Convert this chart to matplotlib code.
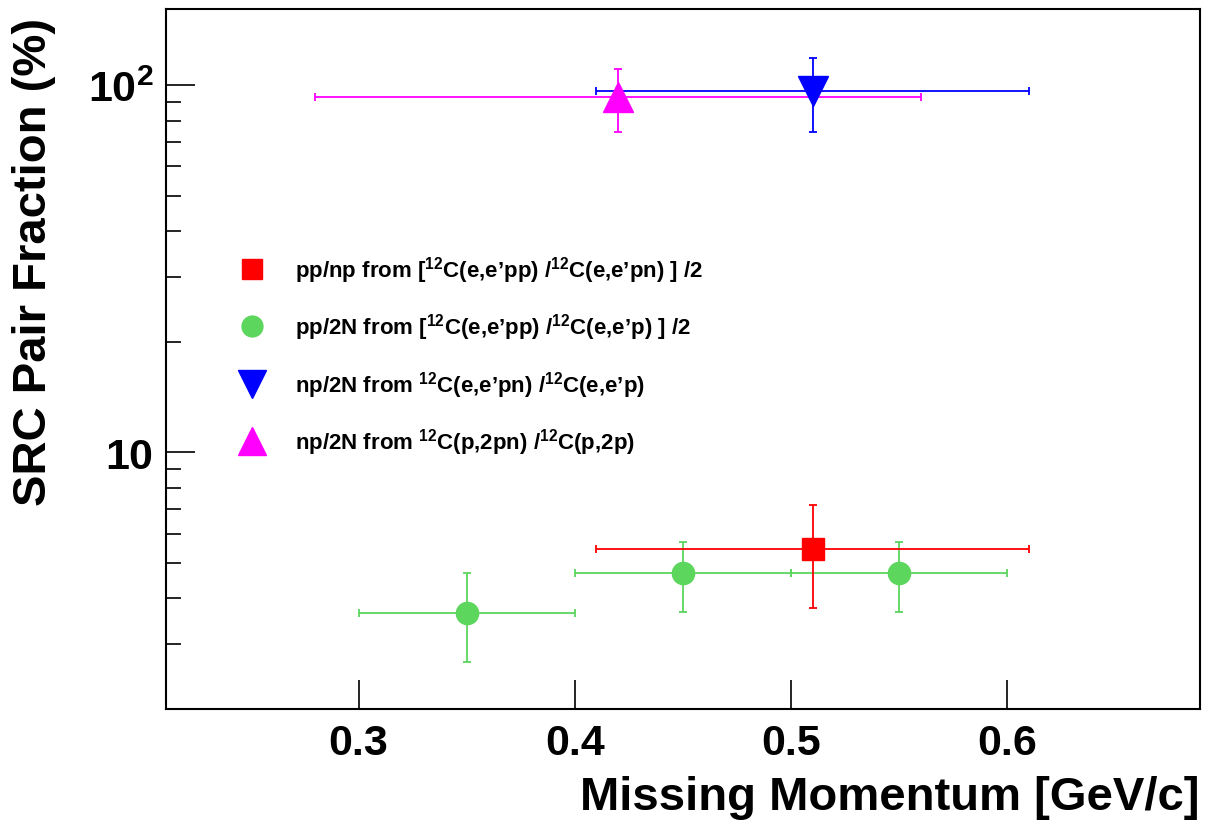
import matplotlib
matplotlib.use("Agg")
import matplotlib.pyplot as plt
from matplotlib.lines import Line2D
from matplotlib.ticker import FixedLocator, FixedFormatter, NullFormatter

plt.rcParams['font.family'] = ['Liberation Sans', 'DejaVu Sans']
plt.rcParams['font.weight'] = 'bold'
plt.rcParams['mathtext.fontset'] = 'custom'
plt.rcParams['mathtext.rm'] = 'Liberation Sans:bold'
plt.rcParams['mathtext.it'] = 'Liberation Sans:bold'
plt.rcParams['mathtext.bf'] = 'Liberation Sans:bold'
plt.rcParams['mathtext.default'] = 'rm'

# data
# pp/np from [12C(e,e'pp)/12C(e,e'pn)]/2
pp_np_x = [0.51]
pp_np_y = [5.47]
pp_np_xerr = [0.10]
pp_np_ylo = [5.47 - 3.77]
pp_np_yhi = [7.18 - 5.47]

# pp/2N from [12C(e,e'pp)/12C(e,e'p)]/2
pp_2n_x = [0.35, 0.45, 0.55]
pp_2n_y = [3.66, 4.68, 4.68]
pp_2n_xerr = [0.05, 0.05, 0.05]
pp_2n_ylo = [3.66 - 2.68, 4.68 - 3.67, 4.68 - 3.67]
pp_2n_yhi = [4.68 - 3.66, 5.68 - 4.68, 5.68 - 4.68]

# np/2N from 12C(e,e'pn)/12C(e,e'p)
np_e_x = [0.51]
np_e_y = [96.0]
np_e_xerr = [0.10]
np_e_ylo = [96.0 - 74.3]
np_e_yhi = [118.2 - 96.0]

# np/2N from 12C(p,2pn)/12C(p,2p)
np_p_x = [0.42]
np_p_y = [92.5]
np_p_xerr = [0.14]
np_p_ylo = [92.5 - 74.4]
np_p_yhi = [110.6 - 92.5]

labels = [
    r"pp/np from [$^{12}$C(e,e’pp) /$^{12}$C(e,e’pn) ] /2",
    r"pp/2N from [$^{12}$C(e,e’pp) /$^{12}$C(e,e’p) ] /2",
    r"np/2N from $^{12}$C(e,e’pn) /$^{12}$C(e,e’p)",
    r"np/2N from $^{12}$C(p,2pn) /$^{12}$C(p,2p)",
]

red = '#ff0000'
green = '#5cd65c'
blue = '#0000ff'
magenta = '#ff00ff'

fig = plt.figure(figsize=(12.12, 8.29), dpi=100)
ax = fig.add_axes([166/1212, 1 - 710/829, (1200-166)/1212, (710-10)/829])

eb = dict(ls='none', elinewidth=1.3, capsize=3, capthick=1.3)
ax.errorbar(pp_2n_x, pp_2n_y, xerr=pp_2n_xerr, yerr=[pp_2n_ylo, pp_2n_yhi],
            color=green, marker='o', markersize=16, mec=green, **eb)
ax.errorbar(pp_np_x, pp_np_y, xerr=pp_np_xerr, yerr=[pp_np_ylo, pp_np_yhi],
            color=red, marker='s', markersize=15.5, mec=red, **eb)
ax.errorbar(np_e_x, np_e_y, xerr=np_e_xerr, yerr=[np_e_ylo, np_e_yhi],
            color=blue, marker='v', markersize=21, mec=blue, **eb)
ax.errorbar(np_p_x, np_p_y, xerr=np_p_xerr, yerr=[np_p_ylo, np_p_yhi],
            color=magenta, marker='^', markersize=21, mec=magenta, **eb)

ax.set_yscale('log')
ax.set_xlim(0.211, 0.689)
ax.set_ylim(2.0, 161)

ax.xaxis.set_major_locator(FixedLocator([0.3, 0.4, 0.5, 0.6]))
ax.xaxis.set_major_formatter(FixedFormatter(['0.3', '0.4', '0.5', '0.6']))
ax.xaxis.set_minor_locator(FixedLocator([]))
ax.yaxis.set_major_locator(FixedLocator([10, 100]))
ax.yaxis.set_major_formatter(FixedFormatter(['10', r'10$^2$']))
ax.yaxis.set_minor_locator(FixedLocator([2, 3, 4, 5, 6, 7, 8, 9,
                                         20, 30, 40, 50, 60, 70, 80, 90]))
ax.yaxis.set_minor_formatter(NullFormatter())

ax.tick_params(axis='both', which='both', direction='in', top=False, right=False,
               width=1.2, labelsize=31)
ax.tick_params(axis='x', which='major', length=21, pad=10)
ax.tick_params(axis='y', which='major', length=21, pad=9)
ax.tick_params(axis='y', which='minor', length=11)
for s in ax.spines.values():
    s.set_linewidth(1.5)

ax.set_xlabel('Missing Momentum [GeV/c]', fontsize=34, fontweight='bold', loc='right')
ax.xaxis.set_label_coords(1.0, (710 - 776) / 700)
ax.set_ylabel('SRC Pair Fraction (%)', fontsize=34, fontweight='bold', loc='top')
ax.yaxis.set_label_coords((56 - 166) / 1034, (710 - 18) / 700)

handles = [
    Line2D([], [], ls='none', marker='s', markersize=14.4, color=red),
    Line2D([], [], ls='none', marker='o', markersize=15, color=green),
    Line2D([], [], ls='none', marker='v', markersize=20, color=blue),
    Line2D([], [], ls='none', marker='^', markersize=20, color=magenta),
]
leg = ax.legend(handles, labels, loc='upper left', frameon=False,
                bbox_to_anchor=(226/1212, 1 - 246/829), bbox_transform=fig.transFigure,
                prop={'size': 16, 'weight': 'bold'}, handlelength=1.5,
                handletextpad=1.2, labelspacing=1.2, borderaxespad=0)

fig.savefig('out.png', dpi=100)
